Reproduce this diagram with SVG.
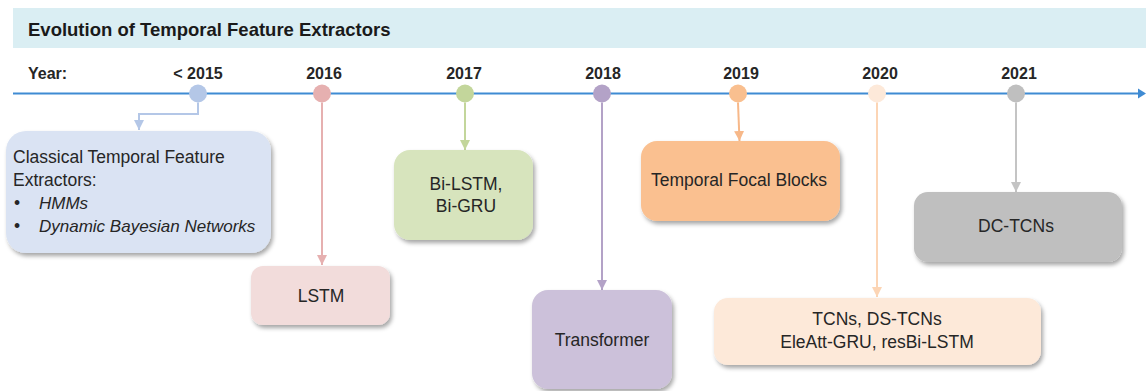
<svg xmlns="http://www.w3.org/2000/svg" width="1146" height="391" viewBox="0 0 1146 391">
<style>
.t{font-family:"Liberation Sans",Arial,sans-serif;font-size:17.5px;fill:#262626}
.i{font-style:italic;font-size:17px}
.c{text-anchor:middle}
.yr{font-family:"Liberation Sans",Arial,sans-serif;font-size:16px;font-weight:bold;fill:#262626;text-anchor:middle}
.box{filter:url(#sh)}
.ln{fill:none;stroke-width:2}
</style>
<defs>
<filter id="sh" x="-10%" y="-10%" width="125%" height="135%">
<feDropShadow dx="2" dy="3" stdDeviation="2" flood-color="#000" flood-opacity="0.35"/>
</filter>
<marker id="aB" viewBox="0 0 10 10" refX="10" refY="5" markerWidth="5" markerHeight="5" orient="auto"><path d="M0,0L10,5L0,10z" fill="#b4c7e7"/></marker>
<marker id="aP" viewBox="0 0 10 10" refX="10" refY="5" markerWidth="5" markerHeight="5" orient="auto"><path d="M0,0L10,5L0,10z" fill="#e6b0b0"/></marker>
<marker id="aG" viewBox="0 0 10 10" refX="10" refY="5" markerWidth="5" markerHeight="5" orient="auto"><path d="M0,0L10,5L0,10z" fill="#c3d69b"/></marker>
<marker id="aV" viewBox="0 0 10 10" refX="10" refY="5" markerWidth="5" markerHeight="5" orient="auto"><path d="M0,0L10,5L0,10z" fill="#b3a2c7"/></marker>
<marker id="aO" viewBox="0 0 10 10" refX="10" refY="5" markerWidth="5" markerHeight="5" orient="auto"><path d="M0,0L10,5L0,10z" fill="#f7b889"/></marker>
<marker id="aL" viewBox="0 0 10 10" refX="10" refY="5" markerWidth="5" markerHeight="5" orient="auto"><path d="M0,0L10,5L0,10z" fill="#fcd5b5"/></marker>
<marker id="aY" viewBox="0 0 10 10" refX="10" refY="5" markerWidth="5" markerHeight="5" orient="auto"><path d="M0,0L10,5L0,10z" fill="#c4c4c4"/></marker>
</defs>
<rect width="1146" height="391" fill="#ffffff"/>
<g id="title">
<rect x="13" y="8" width="1133" height="40" fill="#daeef3"/>
<text x="28" y="36" font-family="Liberation Sans,Arial,sans-serif" font-size="18.5" font-weight="bold" fill="#1a1a1a">Evolution of Temporal Feature Extractors</text>
</g>
<g id="timeline">
<line x1="13" y1="93.5" x2="1140" y2="93.5" stroke="#3f8bd3" stroke-width="2"/>
<path d="M1138,88.5L1146,93.5L1138,98.5z" fill="#3f8bd3"/>
<text x="28" y="79" font-family="Liberation Sans,Arial,sans-serif" font-size="16" font-weight="bold" fill="#262626">Year:</text>
<text class="yr" x="198" y="79">&lt; 2015</text>
<text class="yr" x="324" y="79">2016</text>
<text class="yr" x="464" y="79">2017</text>
<text class="yr" x="603" y="79">2018</text>
<text class="yr" x="741" y="79">2019</text>
<text class="yr" x="880" y="79">2020</text>
<text class="yr" x="1019" y="79">2021</text>
<circle cx="198" cy="93.5" r="9" fill="#b4c7e7"/>
<circle cx="322" cy="93.5" r="9" fill="#e6b0b0"/>
<circle cx="465" cy="93.5" r="9" fill="#c3d69b"/>
<circle cx="602" cy="93.5" r="9" fill="#b3a2c7"/>
<circle cx="738" cy="93.5" r="9" fill="#f9bf8f"/>
<circle cx="877" cy="93.5" r="9" fill="#fde9d9"/>
<circle cx="1016" cy="93.5" r="9" fill="#bfbfbf"/>
</g>
<g id="connectors">
<path class="ln" d="M198,102.5V114H139V130" stroke="#b4c7e7" marker-end="url(#aB)"/>
<path class="ln" d="M322,102.5V265" stroke="#e6b0b0" marker-end="url(#aP)"/>
<path class="ln" d="M465,102.5V150" stroke="#c3d69b" marker-end="url(#aG)"/>
<path class="ln" d="M602,102.5V290" stroke="#b3a2c7" marker-end="url(#aV)"/>
<path class="ln" d="M738,102.5L739.5,141" stroke="#f7b889" marker-end="url(#aO)"/>
<path class="ln" d="M877,102.5V297" stroke="#fcd5b5" marker-end="url(#aL)"/>
<path class="ln" d="M1016,102.5V192" stroke="#c4c4c4" marker-end="url(#aY)"/>
</g>
<g id="node-classical">
<rect class="box" x="6" y="131" width="265" height="122" rx="20" fill="#dae3f3"/>
<text class="t" x="13" y="163">Classical Temporal Feature</text>
<text class="t" x="13" y="186">Extractors:</text>
<text class="t" x="14" y="209">•</text>
<text class="t i" x="39" y="209">HMMs</text>
<text class="t" x="14" y="232">•</text>
<text class="t i" x="39" y="232">Dynamic Bayesian Networks</text>
</g>
<g id="node-lstm">
<rect class="box" x="251" y="266" width="139" height="59" rx="12" fill="#f2dcdb"/>
<text class="t c" x="321" y="302">LSTM</text>
</g>
<g id="node-bilstm">
<rect class="box" x="394" y="150" width="139" height="90" rx="16" fill="#d7e4bd"/>
<text class="t c" x="466" y="190">Bi-LSTM,</text>
<text class="t c" x="466" y="212">Bi-GRU</text>
</g>
<g id="node-transformer">
<rect class="box" x="532" y="290" width="140" height="99" rx="16" fill="#ccc1da"/>
<text class="t c" x="602" y="346">Transformer</text>
</g>
<g id="node-tfb">
<rect class="box" x="641" y="141" width="199" height="80" rx="16" fill="#fac090"/>
<text class="t c" x="739" y="186">Temporal Focal Blocks</text>
</g>
<g id="node-tcns">
<rect class="box" x="714" y="298" width="327" height="67" rx="14" fill="#fde9d9"/>
<text class="t c" x="877" y="325">TCNs, DS-TCNs</text>
<text class="t c" x="877" y="348">EleAtt-GRU, resBi-LSTM</text>
</g>
<g id="node-dctcns">
<rect class="box" x="914" y="192" width="208" height="70" rx="14" fill="#bfbfbf"/>
<text class="t c" x="1016" y="232">DC-TCNs</text>
</g>
</svg>
